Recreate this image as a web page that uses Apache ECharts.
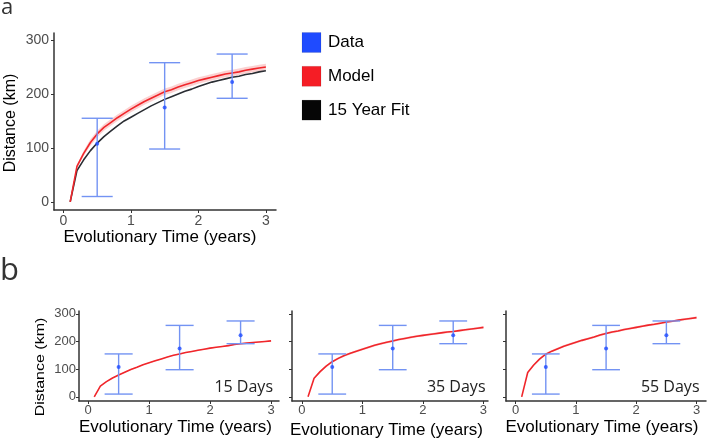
<!DOCTYPE html>
<html>
<head>
<meta charset="utf-8">
<script src="https://cdn.jsdelivr.net/npm/echarts@6/dist/echarts.min.js"></script>
<style>html,body{margin:0;padding:0;background:#fff}#c{width:708px;height:446px}</style>
</head>
<body>
<div id="c"></div>
<script>
// ---- data ----
const years = [0.1,0.2,0.3,0.4,0.5,0.6,0.7,0.8,0.9,1.0,1.1,1.2,1.3,1.4,1.5,1.6,1.7,1.8,1.9,2.0,2.1,2.2,2.3,2.4,2.5,2.6,2.7,2.8,2.9,3.0];
const modelA = [0,66,90,110,126,138,147,156,164,172,179,186,192,198,204,208,213,217,221,225,228,231,234,237,239,241,244,246,248,250];
const bandA  = [0,4,5,6,6,6,6,6,6,6,6,6,6,6,6,6,6,6,6,6,6,6,6,6,6,6,6,6,6,6];
const fitA   = [0,58,78,95,109,121,131,141,150,157,164,171,178,184,190,195,200,205,209,214,218,222,225,228,231,233,236,238,241,243];
const model15 = [0,39,55,68,79,89,99,107,116,123,130,137,144,150,155,160,164,168,172,176,179,182,185,189,192,194,196,198,200,202];
const band15  = [0,1,1,2,2,2,2,2,2,2,2,2,2,2,2,2,2,2,2,2,2,2,2,2,2,2,2,2,2,2];
const model35 = [0,67,91,111,127,139,149,157,165,172,179,186,192,197,202,207,211,215,219,222,225,228,231,234,236,239,242,245,248,251];
const band35  = [0,3,4,4,4,4,4,4,4,4,4,4,4,4,4,4,4,4,4,4,4,4,4,4,4,4,4,4,4,4];
const model55 = [0,88,115,137,154,165,174,183,190,197,204,210,216,223,229,234,238,243,247,251,255,259,262,266,270,273,277,280,283,286];
const band55  = [0,3,4,4,4,4,4,4,4,4,4,4,4,4,4,4,4,4,4,4,4,4,4,4,4,4,4,4,4,4];
const dataX = [0.5,1.5,2.5];
const dataY = [108,175,222];
const dataLow = [10,98,192];
const dataHigh = [155,258,274];
const capHalf = 0.23;
const tickX = [0,1,2,3];
const tickY = [0,100,200,300];
const panelLabels = ['15 Days','35 Days','55 Days'];
const legendNames = ['Data','Model','15 Year Fit'];

const BLUE = '#1f4bff', BAR = '#7393f3', RED = '#f0262b', BLACK = '#2a2d33', RIB = 'rgba(240,90,90,0.28)';
const FONT = 'Liberation Sans, Arial, sans-serif';

const grids = [
  {left:54, top:33, width:222, height:177},
  {left:79, top:311, width:200, height:90},
  {left:292, top:311, width:196, height:90},
  {left:506, top:311, width:200, height:90}
];
const xr = [[-0.14,3.15],[-0.15,3.13],[-0.165,3.075],[-0.16,3.157]];
const yr = [[-15,313],[-15,310],[-15,310],[-15,310]];

function xAxis(i){
  const big = i===0;
  return {type:'value', gridIndex:i, min:xr[i][0], max:xr[i][1],
    axisLine:{show:true, onZero:false, lineStyle:{color:'#333', width:1.5}},
    axisTick:{show:true, length:3, customValues:tickX, lineStyle:{color:'#333', width:1}},
    axisLabel:{show:true, customValues:tickX, margin:big?4:3, color:'#4d4d4d', fontFamily:FONT, fontSize:big?14:13},
    splitLine:{show:false}};
}
function yAxis(i){
  const big = i===0;
  return {type:'value', gridIndex:i, min:yr[i][0], max:yr[i][1],
    axisLine:{show:true, onZero:false, lineStyle:{color:'#333', width:1.5}},
    axisTick:{show:true, length:3, customValues:tickY, lineStyle:{color:'#333', width:1}},
    axisLabel:{show:i<=1, customValues:tickY, margin:big?5:3, color:'#4d4d4d', fontFamily:FONT, fontSize:big?14:13},
    splitLine:{show:false}};
}

function ribbon(i, mid, band){
  return {type:'custom', xAxisIndex:i, yAxisIndex:i, data:[[1,100]], z:1, silent:true,
    renderItem:function(params, api){
      const up = years.map((x,k)=>api.coord([x, mid[k]+band[k]]));
      const lo = years.map((x,k)=>api.coord([x, mid[k]-band[k]])).reverse();
      return {type:'polygon', shape:{points:up.concat(lo)}, style:{fill:RIB, stroke:null}};
    }};
}
function line(i, vals, color){
  return {type:'line', xAxisIndex:i, yAxisIndex:i, data:years.map((x,k)=>[x, vals[k]]),
    showSymbol:false, symbol:'none', z:3, silent:true, lineStyle:{color:color, width:1.6}};
}
function errbars(i){
  return {type:'custom', xAxisIndex:i, yAxisIndex:i, z:4, silent:true,
    data:dataX.map((x,k)=>[x, dataLow[k], dataHigh[k], dataY[k]]),
    renderItem:function(params, api){
      const x = api.value(0), lo = api.value(1), hi = api.value(2);
      const pLo = api.coord([x, lo]), pHi = api.coord([x, hi]);
      const cl1 = api.coord([x-capHalf, lo]), cl2 = api.coord([x+capHalf, lo]);
      const ch1 = api.coord([x-capHalf, hi]), ch2 = api.coord([x+capHalf, hi]);
      const st = {stroke:BAR, lineWidth:1.4};
      return {type:'group', children:[
        {type:'line', shape:{x1:pLo[0], y1:pLo[1], x2:pHi[0], y2:pHi[1]}, style:st},
        {type:'line', shape:{x1:cl1[0], y1:cl1[1], x2:cl2[0], y2:cl2[1]}, style:st},
        {type:'line', shape:{x1:ch1[0], y1:ch1[1], x2:ch2[0], y2:ch2[1]}, style:st}
      ]};
    }};
}
function points(i){
  return {type:'scatter', xAxisIndex:i, yAxisIndex:i, z:5, silent:true,
    data:dataX.map((x,k)=>[x, dataY[k]]), symbol:'circle', symbolSize:4, itemStyle:{color:BLUE}};
}

const series = [
  ribbon(0, modelA, bandA), line(0, fitA, BLACK), line(0, modelA, RED), errbars(0), points(0),
  ribbon(1, model15, band15), line(1, model15, RED), errbars(1), points(1),
  ribbon(2, model35, band35), line(2, model35, RED), errbars(2), points(2),
  ribbon(3, model55, band55), line(3, model55, RED), errbars(3), points(3)
];

const legendColors = ['#1f4bff', '#f51d25', '#060606'];
const graphic = [
  {type:'text', left:1, top:-3, style:{text:'a', font:'22px "Open Sans", sans-serif', fill:'#333'}},
  {type:'text', left:0, top:256, style:{text:'b', font:'31px "Open Sans", sans-serif', fill:'#333'}},
  {type:'text', x:160, y:237, style:{text:'Evolutionary Time (years)', font:'17px '+FONT, fill:'#000', align:'center', verticalAlign:'middle'}},
  {type:'text', x:11, y:123, rotation:Math.PI/2, style:{text:'Distance (km)', font:'16px '+FONT, fill:'#000', align:'center', verticalAlign:'middle'}},
  {type:'text', x:40, y:367, rotation:Math.PI/2, scaleY:0.82, style:{text:'Distance (km)', font:'16px '+FONT, fill:'#000', align:'center', verticalAlign:'middle'}},
  {type:'text', x:175.5, y:427, style:{text:'Evolutionary Time (years)', font:'17px '+FONT, fill:'#000', align:'center', verticalAlign:'middle'}},
  {type:'text', x:386.5, y:430, style:{text:'Evolutionary Time (years)', font:'17px '+FONT, fill:'#000', align:'center', verticalAlign:'middle'}},
  {type:'text', x:602, y:427, style:{text:'Evolutionary Time (years)', font:'17px '+FONT, fill:'#000', align:'center', verticalAlign:'middle'}},
  {type:'text', x:273, y:387, style:{text:panelLabels[0], font:'16px "Open Sans", sans-serif', fill:'#222', align:'right', verticalAlign:'middle'}},
  {type:'text', x:485.5, y:387, style:{text:panelLabels[1], font:'16px "Open Sans", sans-serif', fill:'#222', align:'right', verticalAlign:'middle'}},
  {type:'text', x:699.5, y:387, style:{text:panelLabels[2], font:'16px "Open Sans", sans-serif', fill:'#222', align:'right', verticalAlign:'middle'}}
];
legendNames.forEach((n,k)=>{
  const y0 = 32.5 + k*33.8;
  graphic.push({type:'rect', shape:{x:302, y:y0, width:19, height:20}, style:{fill:legendColors[k], stroke:'rgba(0,0,0,0.12)', lineWidth:0.8}});
  graphic.push({type:'text', x:328, y:y0+10, style:{text:n, font:'17px '+FONT, fill:'#000', verticalAlign:'middle'}});
});

const chart = echarts.init(document.getElementById('c'), null, {renderer:'canvas'});
chart.setOption({
  animation:false,
  backgroundColor:'#fff',
  grid:grids,
  xAxis:[0,1,2,3].map(xAxis),
  yAxis:[0,1,2,3].map(yAxis),
  series:series,
  graphic:graphic
});
</script>
</body>
</html>
